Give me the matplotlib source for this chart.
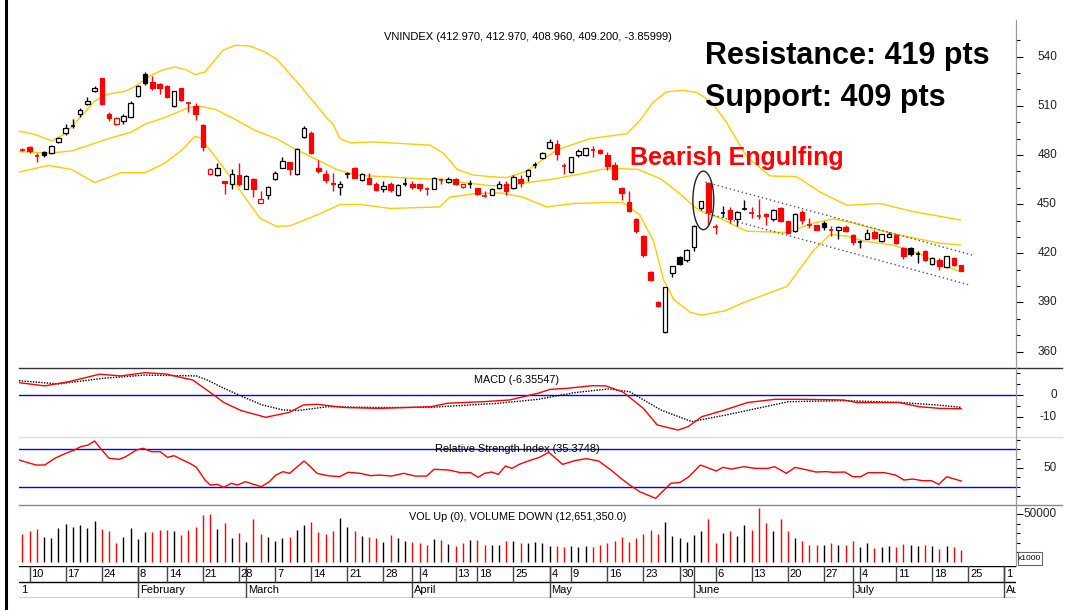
import matplotlib
matplotlib.use('Agg')
import matplotlib.pyplot as plt
from matplotlib.transforms import blended_transform_factory
from matplotlib.patches import Ellipse, Rectangle
from matplotlib.lines import Line2D

plt.rcParams['font.family'] = ['Liberation Sans', 'DejaVu Sans']

# ---------------- data (trading-day index 0..130) ----------------
opens = [483.7, 485, 479.7, 481.7, 481, 488, 493.5, 498.2, 505, 511, 519, 526.7, 505.3, 499, 501, 503.5, 516.2, 529.7, 524.3, 523.6,
         522, 510, 520.6, 512, 510, 498.6, 468.2, 468, 464, 462.3, 468, 459.3, 465.6, 451, 455.7, 465.6, 472, 475.7, 468.2, 491,
         493.7, 471.8, 468.6, 463, 460.2, 468.2, 471.8, 464.6, 466.2, 462.6, 459.3, 462.3, 455.3, 462.7, 462.3, 462, 459.8, 459.1, 465.5, 463.6,
         465.6, 460.5, 462.6, 459.6, 455.6, 455.7, 459.6, 462.3, 459.9, 465.2, 467.2, 473.6, 478.2, 484, 487, 473.5, 469.8, 479.7, 479.7, 483.7,
         483, 480.1, 473.6, 459.6, 451.4, 440.8, 430.8, 408.7, 390.2, 372, 407.7, 417.9, 416, 423.9, 447.4, 463.2, 436.2, 444.6, 446.4, 440.8,
         447.2, 445, 443.2, 443.8, 440.8, 447.4, 439.5, 433.5, 445.4, 437.6, 437.4, 438.4, 434.7, 434.2, 436.2, 431.1, 427.3, 428.9, 433.3, 427.5,
         430.1, 430.9, 423.5, 423.5, 419.8, 421.5, 413.6, 416.2, 411.4, 417.1, 412.97]
highs = [484.5, 485.5, 481, 482.3, 486, 491, 499, 502, 508.5, 515.5, 522.4, 527, 506.5, 503, 505, 513.2, 522.5, 530.5, 528.5, 524,
         522.5, 519, 521, 512.4, 512, 499, 472, 475, 464.3, 471.5, 475, 467.5, 466, 458, 461.3, 470, 478.7, 476, 484, 497.5,
         494.5, 477, 471, 469, 464.2, 469.9, 472.5, 469, 469.2, 463.5, 464, 463.5, 462, 465.8, 464, 462.5, 460.5, 466.5, 466, 466.5,
         466, 462.5, 464.5, 460, 458, 459.6, 464, 464.2, 467.5, 467.5, 471.5, 475.5, 482, 489.6, 489, 475, 479, 483.5, 484.5, 485.5,
         483.5, 482, 476, 460.5, 458, 441.5, 431, 409.5, 391, 399.5, 412.5, 418.5, 422.5, 437, 452, 463.5, 438, 449, 448, 446,
         452.8, 448, 453.3, 444.5, 447, 448, 440, 444.5, 446.5, 441.5, 437.5, 439.5, 436.7, 436.7, 437, 431.5, 428, 435, 434, 432,
         433, 431.5, 424, 424, 421.5, 422, 417.5, 417, 418.5, 418, 412.97]
lows = [482.5, 481, 476, 478.5, 480.5, 487.5, 492.5, 496.5, 503.5, 510.5, 518.6, 510.5, 501, 498.5, 499, 502.5, 515.5, 523, 519.5, 517.5,
        514.5, 509.5, 513, 506, 501.5, 482.5, 468, 467.2, 456, 459, 461, 459, 454.3, 451, 453.3, 465, 472, 467.6, 468, 490.5,
        480.5, 469, 463, 458.3, 455.7, 466.2, 466, 464.3, 462, 458, 457.3, 457.3, 455, 461.3, 459.5, 457.8, 455.5, 459, 462.5, 463,
        461.5, 460, 460, 455.5, 454.5, 455.3, 459, 455.3, 459.5, 460.5, 464, 471.8, 477.5, 483.5, 477, 468.3, 468.8, 479, 479.3, 479,
        480.5, 471, 464.5, 452.3, 445, 432.5, 417.6, 403, 387.5, 371.5, 405.5, 413, 415, 421.6, 446.5, 437, 431.5, 442.4, 438.5, 436.8,
        446.4, 441.5, 441, 437.5, 440, 439, 431.5, 433, 437.7, 435.6, 434, 434.5, 430.8, 429, 432.8, 425, 423.1, 428.5, 428.8, 427,
        430, 425.5, 416.5, 418.6, 414, 415.5, 412.8, 410, 411, 412.5, 408.96]
closes = [483.3, 482.7, 479.4, 479.8, 485.5, 490.4, 496.4, 498, 507.3, 513.2, 520.6, 511.2, 502.7, 502.3, 504, 511.7, 522, 523.8, 521.2, 520.8,
          515.4, 518.8, 513.8, 511.8, 505.3, 484.6, 471.2, 472, 463, 468.2, 462.3, 467.2, 459.3, 453.3, 460.2, 469.2, 476.5, 471.5, 483.6, 496.4,
          481.1, 470.2, 464.8, 462.3, 462.5, 468.3, 466.2, 468.6, 462.6, 458.9, 460.8, 458.9, 461.7, 462.6, 460.2, 459.9, 459.5, 465.8, 465, 465.6,
          462.3, 462, 462.6, 456.3, 455.2, 459.3, 462.3, 458, 466.8, 462.9, 470.6, 473.7, 481.2, 488, 480.7, 473, 478.9, 482.7, 484, 483.3,
          481, 473.2, 465.6, 456.9, 445.8, 433.5, 419, 403.7, 388, 399.3, 412.2, 413.6, 422, 436.5, 451.7, 445, 435.8, 444.8, 440.8, 445.4,
          447, 444.6, 443, 442.8, 446.4, 439.5, 432.5, 444, 440.4, 437.2, 434.5, 436, 434.3, 436, 433.5, 427, 427.2, 432.5, 429.5, 431.5,
          431.6, 426.1, 418.2, 419.6, 419.7, 416.2, 417, 412.3, 418.3, 413.06, 409.2]
close_before = 484.5

volume = [28700, 32500, 34600, 26200, 25200, 35700, 39200, 36700, 38100, 35700, 43000, 34600, 32500, 19900, 26200, 35700, 24100, 31500, 30800, 33600,
          33600, 32500, 28300, 33600, 36700, 48600, 49700, 34600, 40900, 25200, 30400, 21000, 44400, 29400, 26200, 22000, 25200, 26200, 33600, 38800,
          42000, 31500, 29400, 32500, 46200, 36700, 32500, 27300, 26200, 25200, 21000, 28300, 25200, 22000, 21000, 19900, 17800, 24100, 23100, 18900,
          16800, 19900, 23100, 23100, 17800, 17800, 17800, 22000, 22000, 19900, 19900, 21000, 19900, 16800, 16800, 15700, 16800, 15700, 16800, 15700,
          17800, 19900, 22000, 26200, 21000, 25200, 29400, 33600, 29400, 42000, 27300, 25200, 21000, 28300, 32500, 45100, 19900, 30400, 32500, 27300,
          38800, 33600, 56000, 40900, 32500, 45100, 32500, 25200, 22000, 17800, 17800, 17800, 19900, 17800, 17800, 22000, 15700, 19900, 14700, 15700,
          16800, 15700, 18900, 17800, 16800, 17800, 16800, 13600, 16800, 15700, 12651]

# Bollinger bands (index, value)
bb_up_x = [-0.47, 1.7, 4.1, 5.9, 8.2, 10, 11.9, 14.2, 15.6, 17.4, 19.3, 21.1, 22.7, 23.9, 25.3, 26.4, 27.8, 29.5, 31.5, 33.5, 35.2, 38.4, 42.1, 43,
           44, 45.4, 48.6, 56.5, 58.3, 60.2, 62.4, 64.8, 67.1, 69.8, 74, 78.6, 83.7, 85.5, 87.3, 89.2, 91.5, 93.5, 95.5, 97.5, 100.3, 103.5, 107.2,
           110.5, 114.2, 118.8, 123.4, 129.9]
bb_up_y = [494.6, 492.6, 488.6, 493, 503.9, 512.9, 517.2, 518.8, 521.8, 527.7, 531.7, 533.7, 532, 529.1, 530.7, 536.6, 544, 547, 546.5, 543, 538.6, 522.7, 502.9, 498.9,
           490, 487.4, 488, 486, 481.1, 471.2, 467.8, 466.8, 466.2, 470.2, 483.1, 490, 493, 501, 512, 518.5, 519.5, 518, 512, 500, 479.1, 467.2, 466.8,
           457.3, 449.3, 450.4, 445.4, 440.4]
bb_mid_x = [-0.47, 3.6, 6.8, 8.9, 11.9, 15.1, 17, 19.75, 23, 24.4, 26.7, 29.4, 32.2, 35.2, 38, 40.8, 43.5, 46.3, 50.9, 54.6, 58.3, 61, 64.8,
            66.8, 70.1, 73.3, 77, 80.2, 82.5, 85.3, 88.5, 90.8, 93.6, 96.4, 100.3, 105.9, 109.5, 112.3, 115.1, 117.4, 121.1, 126.6, 129.9]
bb_mid_y = [482.1, 481.1, 482.5, 485.5, 490, 494, 498.9, 502.9, 508.9, 509.9, 507.9, 501.9, 495, 490, 483.1, 477.1, 471.2, 467.6, 466.6, 465.6, 465.2, 463.2, 461.3,
            461.3, 463.2, 465.2, 468.2, 471.2, 471.8, 471.2, 465.2, 457.3, 446.4, 441.8, 433.5, 432.7, 438.4, 441, 438.4, 435.5, 431.5, 426.5, 425]
bb_lo_x = [-0.47, 3.6, 6.8, 10, 13.7, 17, 19.75, 22.1, 23.9, 24.6, 26.7, 29, 31.3, 32.9, 35.2, 37.1, 40.8, 44, 46.8, 50.9, 57.8, 59.2, 62.5, 66.2,
           69.3, 72.6, 76.3, 80.9, 83.2, 85.5, 87.4, 88.8, 90.2, 92.5, 94.1, 97.3, 99.8, 105.9, 109.5, 111.9, 114.2, 116.5, 120.6, 124.3, 127.1, 129.9]
bb_lo_y = [469.6, 473.6, 471.2, 463.2, 469.2, 469.2, 475.1, 483.1, 491.4, 490.5, 479.1, 465.2, 451.3, 441.4, 436.4, 436.8, 443.4, 449.8, 449.8, 447.4, 448.3, 454.3, 456.3, 456.9,
           454.3, 448.3, 450.4, 451, 451, 443.4, 427.5, 403.7, 391.8, 383.9, 382.3, 384.9, 389.8, 399.8, 421.5, 431.5, 430.5, 427.5, 425, 419.6, 413.6, 408.7]

# MACD (index, value)
macd_x = [-0.47, 3.1, 6.5, 10.7, 13.6, 17, 19.8, 23.6, 26.5, 27.9, 30.3, 33.7, 37, 38.9, 40.8, 44.7, 49.4, 56.6, 58.9, 63.8, 67.5, 71.4,
          73.1, 75.5, 78.9, 80.8, 83.2, 86, 87.9, 90.8, 92.2, 94.1, 97, 100.4, 104.2, 108, 113.7, 115.6, 121.4, 124.2, 127.1, 130]
macd_y = [5.7, 4.2, 6.2, 9.6, 8.8, 10.3, 9.7, 6.9, 0, -3.5, -7.2, -10.3, -8, -4.6, -4.3, -5.8, -6.2, -5.4, -3.8, -3.1, -2.3, 0.8,
          2.6, 3.1, 4.3, 4.2, 1.3, -6.2, -13.8, -16.2, -14.6, -10, -7.2, -3.5, -2, -2, -2.3, -3.5, -3.5, -5.4, -6.2, -6.36]
sig_x = [-0.47, 5, 11.2, 17, 24.1, 25.6, 27.9, 30.3, 33.2, 36.1, 38.1, 42.3, 49.4, 56.6, 66.1, 71.4, 76.5, 81.2, 84.1, 88.4, 92.7,
         97.5, 102.3, 106.1, 113.7, 121.4, 126.6, 130]
sig_y = [6.6, 5.1, 7.7, 9.2, 8.8, 6.9, 3.1, -0.5, -4.6, -6.9, -7.2, -5.4, -5.8, -5.7, -3.8, -2, 1.1, 2.8, 1.5, -6.9, -12.3,
         -9.2, -5.8, -3.1, -2.6, -3.4, -4.6, -5.7]

# RSI (index, value)
rsi_x = [-0.5, 1.9, 3.1, 4.5, 6, 7.2, 8.1, 9.1, 10, 11, 12, 13.4, 14.3, 15.8, 16.7, 17.9, 19.1, 20.1, 21, 22, 23.2, 24.1, 25.3, 26,
         27, 27.9, 28.9, 29.8, 30.9, 32, 33.1, 34.2, 35.1, 36.1, 37, 39, 39.9, 40.8, 42.3, 43.9, 45.1, 46.8, 48.2, 49.4, 51.1, 52.8,
         54.4, 56, 57, 59, 60.7, 62.1, 63.1, 64, 65, 65.9, 66.9, 67.8, 68.8, 70.2, 71.6, 72.9, 74.8, 76.5, 78.1, 79.8, 81.5, 82.9,
         84.1, 85.5, 87.7, 89.8, 91.1, 92.3, 93.9, 96.1, 97, 98.2, 99.9, 101.5, 103.2, 104.2, 105.8, 107, 108.7, 109.9, 111.3, 112.3,
         113.9, 115, 116.1, 117.1, 119.4, 120.9, 122.1, 123.3, 124.7, 125.9, 126.9, 128, 130]
rsi_y = [58.6, 53.2, 53.2, 60.4, 65.7, 69.3, 72.9, 74.6, 78.9, 69.3, 60.4, 59.3, 62.1, 69.3, 71.1, 67.5, 67.5, 61.4, 63.2, 59.3, 55, 50.7, 37.1, 31.8,
         32.5, 29.3, 33.6, 31.8, 35.4, 32.5, 30, 35.4, 42.5, 46.1, 44.3, 57.5, 51.4, 44.3, 41.8, 40.7, 45.4, 44.3, 41.8, 42.5, 41.4, 44.3,
         41.4, 41.4, 48.6, 47.9, 45, 45, 40, 44.3, 45.7, 43.2, 52.1, 49.6, 53.9, 57.9, 61.4, 66.8, 53.9, 57.9, 60, 57.5, 47.9, 38.9,
         31.8, 24.6, 17.5, 33.6, 34.6, 40.7, 53.2, 46.8, 50.7, 48.9, 51.4, 49.6, 49.6, 51.4, 44.3, 50.7, 47.9, 45.7, 46.1, 45.4,
         45.7, 40.7, 40.7, 45, 45, 42.5, 37.1, 38.2, 36.4, 36.4, 32.5, 40.7, 36.1]

# date axis labels
day_pos = [1, 6, 11, 16, 20, 25, 30, 35, 40, 45, 50, 55, 60, 63, 68, 73, 76, 81, 86, 91, 96, 101, 106, 111, 116, 121, 126, 131, 136]
day_lab = ['10', '17', '24', '8', '14', '21', '28', '7', '14', '21', '28', '4', '13', '18', '25', '4', '9', '16', '23', '30', '6', '13',
           '20', '27', '4', '11', '18', '25', '1']
month_pos = [16, 31, 54, 73, 93, 115, 136]
month_lab = ['February', 'March', 'April', 'May', 'June', 'July', 'August']

main_ticks = [360, 390, 420, 450, 480, 510, 540]

# channel lines and ellipse (index, price)
chan_up = ([94.6, 131.9], [463.4, 418.5])
chan_lo = ([94.6, 131.3], [444.6, 400.5])

# ---------------- layout helpers ----------------
W, H = 1080, 610
fig = plt.figure(figsize=(10.8, 6.1), dpi=100)


def R(x0, y0, x1, y1):
    return [x0 / W, 1 - y1 / H, (x1 - x0) / W, (y1 - y0) / H]


X0, X1 = 19, 1016
XLIM = (-0.47, 137.6)
RED = '#FF0000'
GOLD = '#FFCC00'
BLUE = '#0000FF'


def style(ax, ylim):
    ax.set_xlim(*XLIM)
    ax.set_ylim(*ylim)
    for s in ['top', 'left', 'bottom']:
        ax.spines[s].set_visible(False)
    ax.spines['right'].set_color('#999999')
    ax.spines['right'].set_linewidth(0.8)
    ax.set_xticks([])
    ax.yaxis.tick_right()
    ax.tick_params(axis='y', which='both', direction='out', colors='black', labelright=False, width=0.8)
    ax.tick_params(axis='y', which='major', length=5)
    ax.tick_params(axis='y', which='minor', length=3)
    ax.patch.set_alpha(0)


def ylabels(ax, vals, texts):
    tr = blended_transform_factory(fig.transFigure, ax.transData)
    for v, t in zip(vals, texts):
        ax.text(1057 / W, v, t, transform=tr, ha='right', va='center', fontsize=8.5, color='#222222')


def ftext(x, y, s, **kw):
    fig.text(x / W, 1 - y / H, s, **kw)


# ---------------- main panel ----------------
ax = fig.add_axes(R(X0, 20, X1, 368))
style(ax, (355.4, 562.4))
ax.set_yticks(main_ticks)
ax.set_yticks(list(range(350, 551, 10)), minor=True)
ylabels(ax, main_ticks, [str(v) for v in main_ticks])

ax.plot(bb_up_x, bb_up_y, color=GOLD, lw=1.0, zorder=1)
ax.plot(bb_mid_x, bb_mid_y, color=GOLD, lw=1.0, zorder=1)
ax.plot(bb_lo_x, bb_lo_y, color=GOLD, lw=1.0, zorder=1)

bw = 0.62
prev = close_before
for i, (o, h, l, c) in enumerate(zip(opens, highs, lows, closes)):
    col = RED if c < prev else 'black'
    prev = c
    ax.plot([i, i], [l, h], color=col, lw=1.0, zorder=2, solid_capstyle='butt')
    lo, hi = min(o, c), max(o, c)
    if hi - lo < 0.6:
        ax.plot([i - bw / 2, i + bw / 2], [c, c], color=col, lw=1.2, zorder=3, solid_capstyle='butt')
    else:
        fc = 'white' if c > o else col
        ax.add_patch(Rectangle((i - bw / 2, lo), bw, hi - lo, facecolor=fc, edgecolor=col, lw=0.9, zorder=3))

ax.plot(*chan_up, color='#555555', lw=1.0, ls=(0, (1, 2)), zorder=4)
ax.plot(*chan_lo, color='#555555', lw=1.0, ls=(0, (1, 2)), zorder=4)
ax.add_patch(Ellipse((94.3, 452.3), 2.9, 35.7, facecolor='none', edgecolor='#222222', lw=1.0, zorder=5))

ftext(528, 37, 'VNINDEX (412.970, 412.970, 408.960, 409.200, -3.85999)', ha='center', va='center', fontsize=8)
ftext(705, 56, 'Resistance: 419 pts', ha='left', va='center', fontsize=22, fontweight='bold')
ftext(705, 98, 'Support: 409 pts', ha='left', va='center', fontsize=22, fontweight='bold')
ftext(630, 158, 'Bearish Engulfing', ha='left', va='center', fontsize=18, fontweight='bold', color=RED)

# ---------------- MACD ----------------
axm = fig.add_axes(R(X0, 368, X1, 437))
style(axm, (-19.4, 12.46))
axm.set_yticks([0, -10])
axm.set_yticks([10, 5, -5, -15], minor=True)
ylabels(axm, [0, -10], ['0', '-10'])
axm.axhline(0, color=BLUE, lw=1.0)
axm.plot(sig_x, sig_y, color='black', lw=1.0, ls=(0, (1, 1)))
axm.plot(macd_x, macd_y, color=RED, lw=1.0)
ftext(517, 380, 'MACD (-6.35547)', ha='center', va='center', fontsize=7.8)

# ---------------- RSI ----------------
axr = fig.add_axes(R(X0, 437, X1, 505))
style(axr, (10.4, 83.2))
axr.set_yticks([50])
axr.set_yticks([80, 70, 60, 40, 30, 20], minor=True)
ylabels(axr, [50], ['50'])
axr.axhline(70, color=BLUE, lw=1.0)
axr.axhline(30, color=BLUE, lw=1.0)
axr.plot(rsi_x, rsi_y, color=RED, lw=1.0)
ftext(517, 449, 'Relative Strength Index (35.3748)', ha='center', va='center', fontsize=7.9)

# ---------------- Volume ----------------
axv = fig.add_axes(R(X0, 505, X1, 566))
style(axv, (-4545, 59441))
axv.set_yticks([50000])
axv.set_yticks([40000, 30000, 20000, 10000], minor=True)
ylabels(axv, [50000], ['50000'])
prev = close_before
for i, (c, v) in enumerate(zip(closes, volume)):
    col = RED if c < prev else 'black'
    prev = c
    axv.plot([i, i], [0, v], color=col, lw=1.0, solid_capstyle='butt')
ftext(518, 517, 'VOL Up (0), VOLUME DOWN (12,651,350.0)', ha='center', va='center', fontsize=7.8)
fig.add_artist(Rectangle((1017.5 / W, 1 - 565 / H), 24 / W, 13 / H, transform=fig.transFigure,
                         facecolor='white', edgecolor='#666666', lw=0.8))
ftext(1029.5, 558.5, 'x1000', ha='center', va='center', fontsize=6)

# ---------------- date rows ----------------
axd = fig.add_axes(R(X0, 566, X1, 598))
axd.set_xlim(*XLIM)
axd.set_ylim(0, 2)
axd.axis('off')
axd.axhline(2, color='black', lw=1.0)
axd.axhline(1, color='black', lw=1.0)
axd.axhline(0, color='black', lw=1.0)
for p, t in zip(day_pos, day_lab):
    axd.plot([p, p], [1, 2], color='#444444', lw=1.0)
    axd.text(p + 0.25, 1.5, t, ha='left', va='center', fontsize=8, clip_on=True)
for p, t in zip(month_pos, month_lab):
    axd.plot([p, p], [0, 2], color='#444444', lw=1.0)
    axd.text(p + 0.25, 0.5, t, ha='left', va='center', fontsize=8, clip_on=True)
axd.text(-0.2, 0.5, '1', ha='left', va='center', fontsize=8)

# ---------------- separators & frame ----------------
for y, c in [(368, '#333333'), (437, '#dddddd'), (505, '#888888')]:
    fig.add_artist(Line2D([X0 / W, 1062 / W], [1 - y / H, 1 - y / H], transform=fig.transFigure, color=c, lw=1.0))
fig.add_artist(Line2D([X1 / W, X1 / W], [1 - 23 / H, 1 - 566 / H], transform=fig.transFigure, color='#999999', lw=0.8))
fig.add_artist(Line2D([5.5 / W, 5.5 / W], [0, 1], transform=fig.transFigure, color='black', lw=2.2))

fig.savefig('out.png', dpi=100)
